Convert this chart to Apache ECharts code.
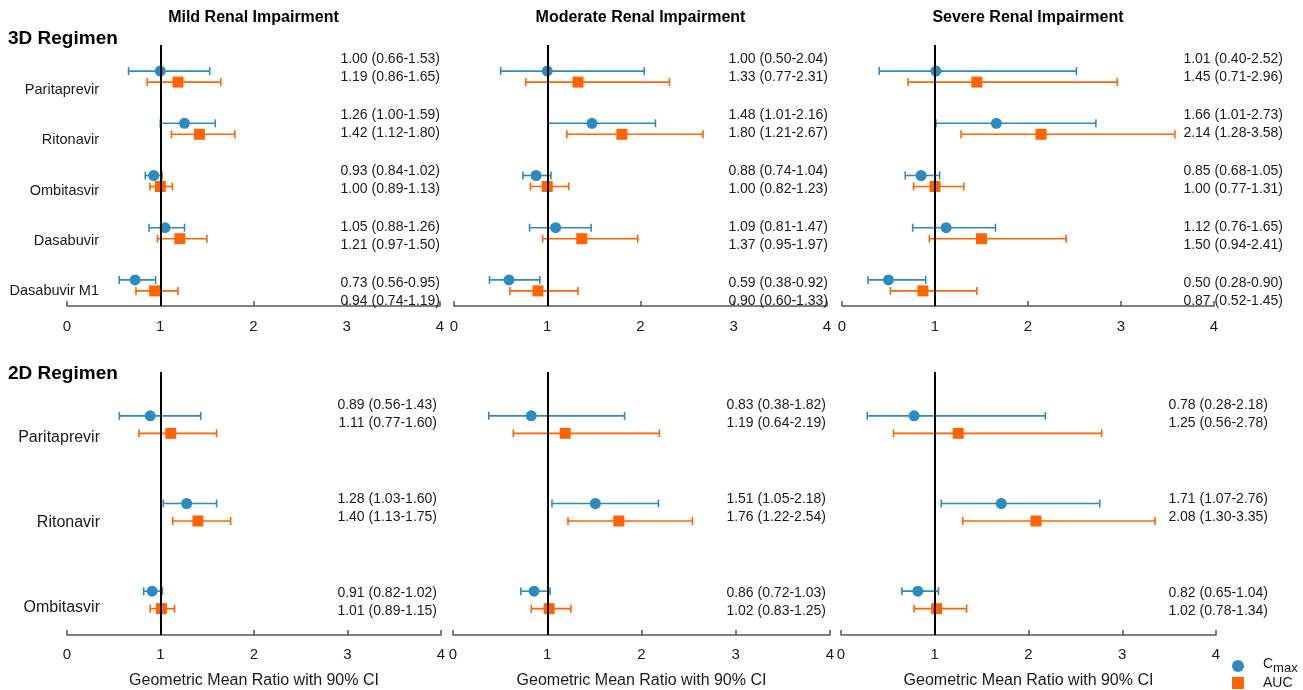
<!DOCTYPE html>
<html>
<head>
<meta charset="utf-8">
<title>Renal impairment forest plot</title>
<script src="https://cdn.jsdelivr.net/npm/echarts@6/dist/echarts.min.js"></script>
<style>
  html, body { margin: 0; padding: 0; background: #fff; }
  #chart { width: 1303px; height: 690px; }
</style>
</head>
<body>
<div id="chart"></div>
<script>
// categories
const drugs3D = ['Paritaprevir', 'Ritonavir', 'Ombitasvir', 'Dasabuvir', 'Dasabuvir M1'];
const drugs2D = ['Paritaprevir', 'Ritonavir', 'Ombitasvir'];
const impairment = ['Mild Renal Impairment', 'Moderate Renal Impairment', 'Severe Renal Impairment'];
const regimens = ['3D Regimen', '2D Regimen'];
const xTicks = [0, 1, 2, 3, 4];
const axisName = 'Geometric Mean Ratio with 90% CI';

// [GMR, lower 90% CI, upper 90% CI]
const cmax3DMild = [[1.00, 0.66, 1.53], [1.26, 1.00, 1.59], [0.93, 0.84, 1.02], [1.05, 0.88, 1.26], [0.73, 0.56, 0.95]];
const auc3DMild  = [[1.19, 0.86, 1.65], [1.42, 1.12, 1.80], [1.00, 0.89, 1.13], [1.21, 0.97, 1.50], [0.94, 0.74, 1.19]];
const cmax3DMod  = [[1.00, 0.50, 2.04], [1.48, 1.01, 2.16], [0.88, 0.74, 1.04], [1.09, 0.81, 1.47], [0.59, 0.38, 0.92]];
const auc3DMod   = [[1.33, 0.77, 2.31], [1.80, 1.21, 2.67], [1.00, 0.82, 1.23], [1.37, 0.95, 1.97], [0.90, 0.60, 1.33]];
const cmax3DSev  = [[1.01, 0.40, 2.52], [1.66, 1.01, 2.73], [0.85, 0.68, 1.05], [1.12, 0.76, 1.65], [0.50, 0.28, 0.90]];
const auc3DSev   = [[1.45, 0.71, 2.96], [2.14, 1.28, 3.58], [1.00, 0.77, 1.31], [1.50, 0.94, 2.41], [0.87, 0.52, 1.45]];

const cmax2DMild = [[0.89, 0.56, 1.43], [1.28, 1.03, 1.60], [0.91, 0.82, 1.02]];
const auc2DMild  = [[1.11, 0.77, 1.60], [1.40, 1.13, 1.75], [1.01, 0.89, 1.15]];
const cmax2DMod  = [[0.83, 0.38, 1.82], [1.51, 1.05, 2.18], [0.86, 0.72, 1.03]];
const auc2DMod   = [[1.19, 0.64, 2.19], [1.76, 1.22, 2.54], [1.02, 0.83, 1.25]];
const cmax2DSev  = [[0.78, 0.28, 2.18], [1.71, 1.07, 2.76], [0.82, 0.65, 1.04]];
const auc2DSev   = [[1.25, 0.56, 2.78], [2.08, 1.30, 3.35], [1.02, 0.78, 1.34]];

const BLUE = '#2c8cbf';
const ORANGE = '#ff6400';
const FONT = '"Liberation Sans", Arial, sans-serif';

// panel layout: grid box, where the value text ends, row offsets
const panels = [
  { cats: drugs3D, cmax: cmax3DMild, auc: auc3DMild, grid: { left: 67,  top: 45, width: 373, height: 261 }, textRight: 373, row: 0 },
  { cats: drugs3D, cmax: cmax3DMod,  auc: auc3DMod,  grid: { left: 454, top: 45, width: 373, height: 261 }, textRight: 374, row: 0 },
  { cats: drugs3D, cmax: cmax3DSev,  auc: auc3DSev,  grid: { left: 842, top: 45, width: 372, height: 261 }, textRight: 441, row: 0 },
  { cats: drugs2D, cmax: cmax2DMild, auc: auc2DMild, grid: { left: 67,  top: 372, width: 374, height: 263 }, textRight: 370, row: 1 },
  { cats: drugs2D, cmax: cmax2DMod,  auc: auc2DMod,  grid: { left: 453, top: 372, width: 377, height: 263 }, textRight: 373, row: 1 },
  { cats: drugs2D, cmax: cmax2DSev,  auc: auc2DSev,  grid: { left: 841, top: 372, width: 375, height: 263 }, textRight: 427, row: 1 }
];
// vertical offsets (px) inside a category band, per row of panels
const rowStyle = [
  { aucShift: 11, textStart: -11.7, textStep: 3.7, labelStart: 18.5, labelStep: -1.75, labelSize: 14.5, labelRight: 32 },
  { aucShift: 17.5, textStart: -10.8, textStep: 6.2, labelStart: 22, labelStep: -3, labelSize: 16, labelRight: 33 }
];

function fmt(v) { return v.toFixed(2); }

function makeRender(p, isAuc, drawLabels) {
  const rs = rowStyle[p.row];
  return function (params, api) {
    const idx = api.value(0);
    const a = api.coord([api.value(2), idx]);
    const b = api.coord([api.value(3), idx]);
    const y = a[1] + (isAuc ? rs.aucShift : 0);
    const color = isAuc ? ORANGE : BLUE;
    const ls = { stroke: color, lineWidth: 1.6 };
    const children = [
      { type: 'line', shape: { x1: a[0], y1: y, x2: b[0], y2: y }, style: ls },
      { type: 'line', shape: { x1: a[0], y1: y - 4, x2: a[0], y2: y + 4 }, style: ls },
      { type: 'line', shape: { x1: b[0], y1: y - 4, x2: b[0], y2: y + 4 }, style: ls }
    ];
    const gx = params.coordSys.x;
    const ty = a[1] + rs.textStart + rs.textStep * idx + (isAuc ? 18.2 : 0);
    children.push({
      type: 'text', z2: 5,
      style: {
        x: gx + p.textRight, y: ty, align: 'right', verticalAlign: 'middle',
        text: fmt(api.value(1)) + ' (' + fmt(api.value(2)) + '-' + fmt(api.value(3)) + ')',
        fill: '#1a1a1a', font: '14px ' + FONT
      }
    });
    if (drawLabels) {
      children.push({
        type: 'text',
        style: {
          x: gx + rs.labelRight, y: a[1] + rs.labelStart + rs.labelStep * idx,
          align: 'right', verticalAlign: 'middle',
          text: p.cats[idx], fill: '#1a1a1a', font: rs.labelSize + 'px ' + FONT
        }
      });
    }
    return { type: 'group', children: children };
  };
}

const grids = [], xAxes = [], yAxes = [], series = [];
panels.forEach(function (p, i) {
  grids.push(p.grid);
  xAxes.push({
    type: 'value', gridIndex: i, min: xTicks[0], max: xTicks[xTicks.length - 1], interval: 1,
    axisLine: { show: true, lineStyle: { color: '#555', width: 1.5 } },
    axisTick: { show: true, inside: true, length: 5, lineStyle: { color: '#555', width: 1.5 } },
    axisLabel: { fontSize: 15, color: '#1a1a1a', margin: p.row === 0 ? 13 : 12, fontFamily: FONT },
    splitLine: { show: false },
    name: p.row === 1 ? axisName : '',
    nameLocation: 'middle', nameGap: 38,
    nameTextStyle: { fontSize: 16, color: '#1a1a1a', fontFamily: FONT }
  });
  yAxes.push({ type: 'category', gridIndex: i, data: p.cats, inverse: true, show: false });

  const cmaxRows = p.cmax.map(function (r, k) { return [k, r[0], r[1], r[2]]; });
  const aucRows = p.auc.map(function (r, k) { return [k, r[0], r[1], r[2]]; });

  series.push({
    name: 'Cmax CI', type: 'custom', xAxisIndex: i, yAxisIndex: i, z: 2,
    renderItem: makeRender(p, false, i % 3 === 0),
    encode: { x: [1, 2, 3], y: 0 }, data: cmaxRows, silent: true,
    markLine: {
      silent: true, symbol: 'none', label: { show: false },
      lineStyle: { color: '#000', width: 2, type: 'solid' },
      data: [{ xAxis: 1 }]
    }
  });
  series.push({
    name: 'AUC CI', type: 'custom', xAxisIndex: i, yAxisIndex: i, z: 2,
    renderItem: makeRender(p, true, false),
    encode: { x: [1, 2, 3], y: 0 }, data: aucRows, silent: true
  });
  series.push({
    name: 'Cmax', type: 'scatter', xAxisIndex: i, yAxisIndex: i, z: 4,
    symbol: 'circle', symbolSize: 11, itemStyle: { color: BLUE, opacity: 1 },
    data: p.cmax.map(function (r, k) { return [r[0], k]; })
  });
  series.push({
    name: 'AUC', type: 'scatter', xAxisIndex: i, yAxisIndex: i, z: 4,
    symbol: 'rect', symbolSize: 11, symbolOffset: [0, rowStyle[p.row].aucShift],
    itemStyle: { color: ORANGE, opacity: 1 },
    data: p.auc.map(function (r, k) { return [r[0], k]; })
  });
});

const titles = impairment.map(function (t, c) {
  const g = panels[c].grid;
  return {
    text: t, left: g.left + g.width / 2, top: 10, textAlign: 'center', padding: 0,
    textStyle: { fontSize: 16, fontWeight: 'bold', color: '#000', fontFamily: FONT }
  };
});
titles.push({ text: regimens[0], left: 8, top: 29, padding: 0,
  textStyle: { fontSize: 19, fontWeight: 'bold', color: '#000', fontFamily: FONT } });
titles.push({ text: regimens[1], left: 8, top: 364, padding: 0,
  textStyle: { fontSize: 19, fontWeight: 'bold', color: '#000', fontFamily: FONT } });

const legendBase = {
  orient: 'vertical', left: 1232, itemWidth: 12, itemHeight: 12, padding: 0,
  textStyle: { color: '#1a1a1a', fontSize: 14, fontFamily: FONT, padding: [0, 0, 0, 14] }
};

const chart = echarts.init(document.getElementById('chart'));
chart.setOption({
  animation: false,
  textStyle: { fontFamily: FONT },
  title: titles,
  grid: grids,
  xAxis: xAxes,
  yAxis: yAxes,
  legend: [
    Object.assign({}, legendBase, {
      top: 656,
      data: [{ name: 'Cmax', icon: 'circle' }],
      formatter: '{c|C}{s|max}',
      textStyle: Object.assign({}, legendBase.textStyle, {
        rich: {
          c: { fontSize: 14, fontFamily: FONT, color: '#1a1a1a', verticalAlign: 'top', lineHeight: 18 },
          s: { fontSize: 13, fontFamily: FONT, color: '#1a1a1a', verticalAlign: 'bottom', lineHeight: 18, padding: [6, 0, 0, 0] }
        }
      })
    }),
    Object.assign({}, legendBase, {
      top: 676,
      data: [{ name: 'AUC', icon: 'rect' }]
    })
  ],
  series: series
});
</script>
</body>
</html>
